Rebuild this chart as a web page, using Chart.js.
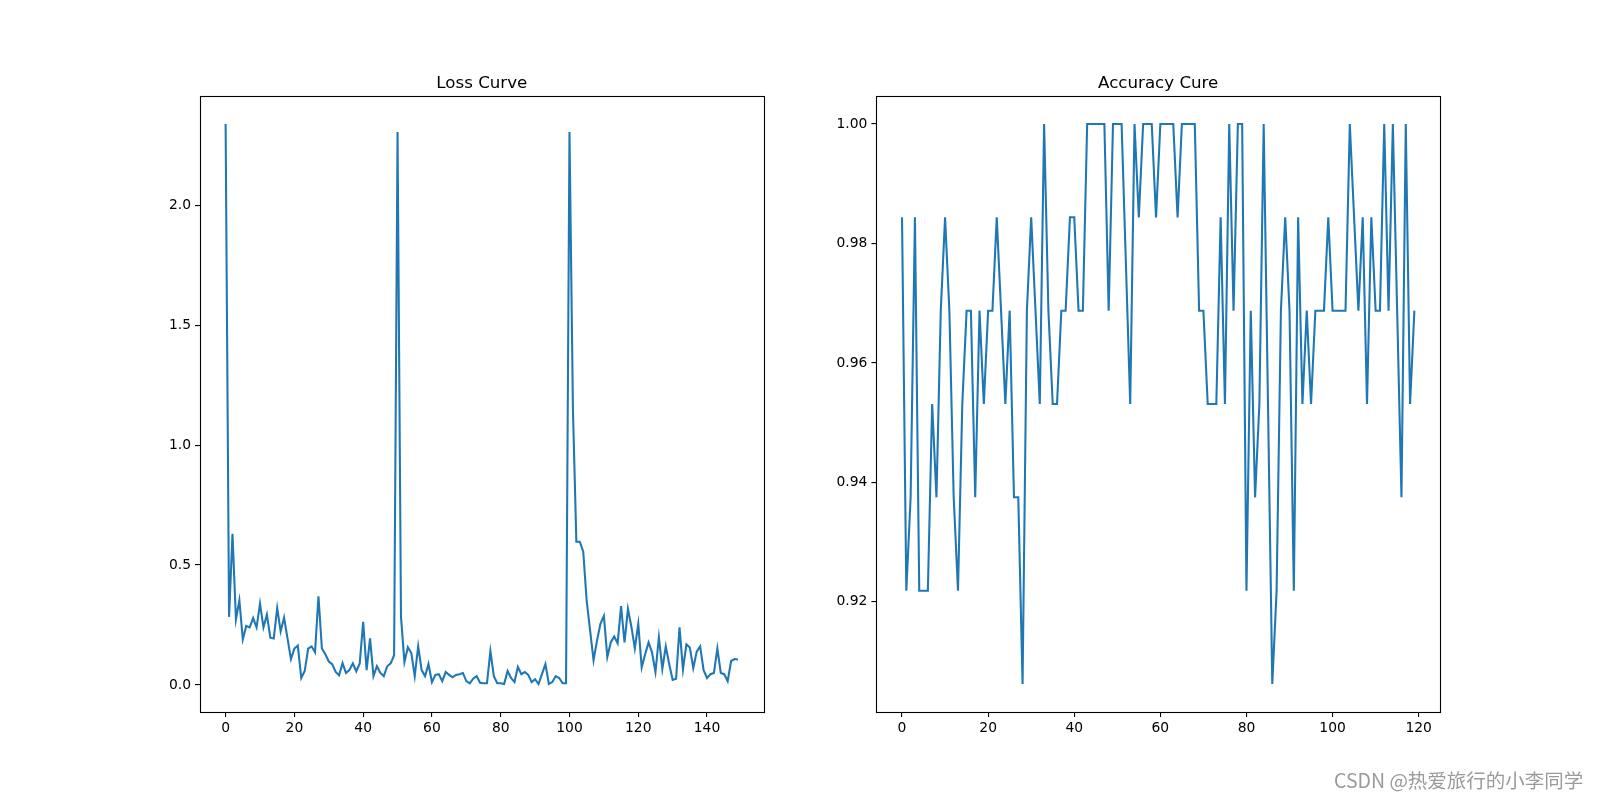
<!DOCTYPE html>
<html>
<head>
<meta charset="utf-8">
<script src="https://cdn.jsdelivr.net/npm/chart.js@4.4.1/dist/chart.umd.min.js"></script>
<style>
html,body{margin:0;padding:0;background:#fff;width:1600px;height:800px;overflow:hidden;}
canvas{position:absolute;top:0;}
#c1{left:0;}
#c2{left:800px;}
#wm{position:absolute;left:1334px;top:770px;font-family:"Noto Sans CJK SC","Liberation Sans",sans-serif;font-size:19.5px;line-height:1;color:#9a9a9a;white-space:nowrap;text-shadow:0 0 1px #fff;}
</style>
</head>
<body>
<canvas id="c1" width="800" height="800"></canvas>
<canvas id="c2" width="800" height="800"></canvas>
<div id="wm">CSDN @热爱旅行的小李同学</div>
<script>
// ---- data ----
const lossTitle = "Loss Curve";
const accTitle = "Accuracy Cure";

const lossValues = [
  2.339,0.284,0.630,0.273,0.353,0.190,0.246,0.240,0.279,0.240,
  0.339,0.240,0.293,0.197,0.194,0.321,0.223,0.281,0.194,0.108,
  0.152,0.164,0.029,0.058,0.152,0.161,0.136,0.370,0.152,0.128,
  0.098,0.087,0.054,0.040,0.091,0.050,0.062,0.090,0.057,0.090,
  0.263,0.062,0.194,0.037,0.078,0.050,0.037,0.078,0.090,0.124,
  2.306,0.284,0.095,0.157,0.133,0.037,0.161,0.062,0.037,0.087,
  0.012,0.042,0.045,0.016,0.054,0.042,0.032,0.042,0.045,0.050,
  0.016,0.007,0.026,0.037,0.009,0.007,0.007,0.141,0.037,0.007,
  0.007,0.004,0.058,0.029,0.012,0.075,0.045,0.054,0.042,0.012,
  0.024,0.004,0.045,0.087,0.004,0.012,0.037,0.029,0.007,0.007,
  2.306,1.150,0.597,0.597,0.556,0.350,0.227,0.103,0.185,0.255,
  0.288,0.116,0.177,0.202,0.174,0.329,0.177,0.317,0.243,0.152,
  0.255,0.073,0.128,0.177,0.136,0.054,0.199,0.067,0.161,0.087,
  0.021,0.026,0.240,0.065,0.169,0.156,0.070,0.139,0.161,0.062,
  0.029,0.045,0.050,0.152,0.050,0.045,0.016,0.100,0.108,0.106
];

const accValues = [
  0.984375,0.921875,0.9375,0.984375,0.921875,0.921875,0.921875,0.953125,0.9375,0.96875,
  0.984375,0.96875,0.9375,0.921875,0.953125,0.96875,0.96875,0.9375,0.96875,0.953125,
  0.96875,0.96875,0.984375,0.96875,0.953125,0.96875,0.9375,0.9375,0.90625,0.96875,
  0.984375,0.96875,0.953125,1.0,0.96875,0.953125,0.953125,0.96875,0.96875,0.984375,
  0.984375,0.96875,0.96875,1.0,1.0,1.0,1.0,1.0,0.96875,1.0,
  1.0,1.0,0.9766,0.953125,1.0,0.984375,1.0,1.0,1.0,0.984375,
  1.0,1.0,1.0,1.0,0.984375,1.0,1.0,1.0,1.0,0.96875,
  0.96875,0.953125,0.953125,0.953125,0.984375,0.953125,1.0,0.96875,1.0,1.0,
  0.921875,0.96875,0.9375,0.953125,1.0,0.953125,0.90625,0.921875,0.96875,0.984375,
  0.96875,0.921875,0.984375,0.953125,0.96875,0.953125,0.96875,0.96875,0.96875,0.984375,
  0.96875,0.96875,0.96875,0.96875,1.0,0.984375,0.96875,0.984375,0.953125,0.984375,
  0.96875,0.96875,1.0,0.96875,1.0,0.96875,0.9375,1.0,0.953125,0.96875
];

const lossXTicks = [0,20,40,60,80,100,120,140];
const lossYTicks = [0.0,0.5,1.0,1.5,2.0];
const accXTicks = [0,20,40,60,80,100,120];
const accYTicks = [0.92,0.94,0.96,0.98,1.00];

// ---- helpers ----
const FONT = '"DejaVu Sans", sans-serif';
function margins(min, max){ const r = max - min; return [min - 0.05*r, max + 0.05*r]; }

const framePlugin = {
  id: 'frame',
  afterDraw(chart, args, opts){
    const {ctx, chartArea:a} = chart;
    ctx.save();
    ctx.strokeStyle = '#000';
    ctx.lineWidth = 1.1;
    ctx.strokeRect(Math.round(a.left)+0.5, Math.round(a.top)+0.5, Math.round(a.right-a.left), Math.round(a.bottom-a.top));
    ctx.fillStyle = '#000';
    ctx.font = '16.67px ' + FONT;
    ctx.textAlign = 'center';
    ctx.textBaseline = 'alphabetic';
    ctx.fillText(opts.text, (a.left + a.right)/2, a.top - 8.3);
    ctx.restore();
  }
};

function makeChart(id, values, xTicks, yTicks, yDigits, title, yWidth, padRight){
  const pts = values.map((v,i)=>({x:i, y:v}));
  const [xmin, xmax] = margins(0, values.length-1);
  const [ymin, ymax] = margins(Math.min(...values), Math.max(...values));
  const tickFont = {family: FONT, size: 13.89};
  return new Chart(document.getElementById(id), {
    type: 'line',
    data: { datasets: [{ data: pts, borderColor: '#1f77b4', borderWidth: 2.08, pointRadius: 0, tension: 0, fill: false }] },
    options: {
      responsive: false, animation: false, devicePixelRatio: 1,
      layout: { padding: { left: 0, top: 96, right: padRight, bottom: 0 } },
      plugins: { legend: {display:false}, tooltip: {enabled:false}, title:{display:false}, frame: {text: title} },
      scales: {
        x: {
          type: 'linear', min: xmin, max: xmax,
          afterBuildTicks: s => { s.ticks = xTicks.map(v=>({value:v})); },
          afterFit: s => { s.height = 88; },
          grid: { drawOnChartArea: false, drawTicks: true, tickLength: 5, color: '#000', lineWidth: 1.1 },
          border: { display: false },
          ticks: { color: '#000', font: tickFont, padding: 3, maxRotation: 0, autoSkip: false, callback: v => String(v) }
        },
        y: {
          type: 'linear', min: ymin, max: ymax,
          afterBuildTicks: s => { s.ticks = yTicks.map(v=>({value:v})); },
          afterFit: s => { s.width = yWidth; },
          grid: { drawOnChartArea: false, drawTicks: true, tickLength: 5, color: '#000', lineWidth: 1.1 },
          border: { display: false },
          ticks: { color: '#000', font: tickFont, padding: 4, autoSkip: false, callback: v => Number(v).toFixed(yDigits) }
        }
      }
    },
    plugins: [framePlugin]
  });
}

makeChart('c1', lossValues, lossXTicks, lossYTicks, 1, lossTitle, 200, 36.4);
makeChart('c2', accValues, accXTicks, accYTicks, 2, accTitle, 76.4, 160);
</script>
</body>
</html>
